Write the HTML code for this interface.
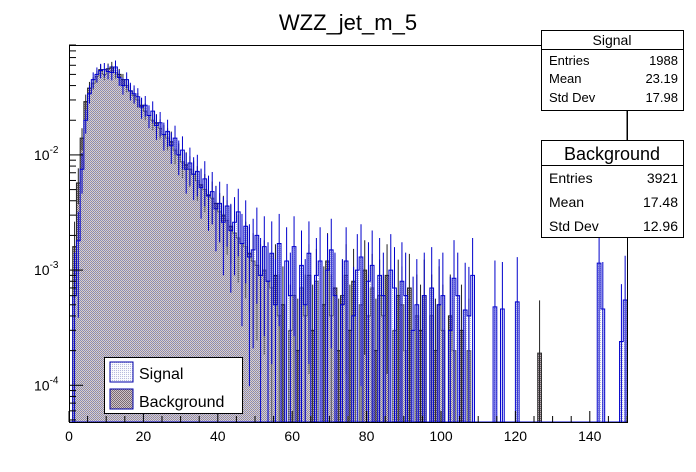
<!DOCTYPE html>
<html><head><meta charset="utf-8"><style>
body{margin:0;background:#fff;font-family:"Liberation Sans",sans-serif}
svg{display:block}
</style></head><body>
<svg id="c" width="696" height="472">
<defs>
<pattern id="hb" width="2" height="2" patternUnits="userSpaceOnUse"><rect width="2" height="2" fill="#cfc4c8"/><rect width="1" height="1" fill="#7a6a74"/><rect x="1" y="1" width="1" height="1" fill="#7a6a74"/></pattern>
<pattern id="hs" width="2" height="2" patternUnits="userSpaceOnUse"><rect width="2" height="2" fill="#e8eaf6" fill-opacity="0.25"/><rect width="1" height="1" fill="#8c90c8" fill-opacity="0.6"/></pattern>
</defs>
<text x="348" y="30" font-size="22" text-anchor="middle">WZZ_jet_m_5</text>
<g id="plot"></g>
<g id="axes"></g>
<line x1="627" y1="110" x2="627" y2="140" stroke="#000"/>
<g>
<rect x="541.5" y="30.5" width="142" height="80" fill="#fff" stroke="#000"/>
<line x1="541" y1="49.5" x2="684" y2="49.5" stroke="#000"/>
<text x="612" y="45" font-size="14" text-anchor="middle">Signal</text>
<text x="549" y="65" font-size="13">Entries</text><text x="678" y="65" font-size="13" text-anchor="end">1988</text>
<text x="549" y="83" font-size="13">Mean</text><text x="678" y="83" font-size="13" text-anchor="end">23.19</text>
<text x="549" y="102" font-size="13">Std Dev</text><text x="678" y="102" font-size="13" text-anchor="end">17.98</text>
</g>
<g>
<rect x="541.5" y="140.5" width="142" height="97" fill="#fff" stroke="#000"/>
<line x1="541" y1="165.5" x2="684" y2="165.5" stroke="#000"/>
<text x="612" y="160" font-size="18" text-anchor="middle">Background</text>
<text x="549" y="183" font-size="14">Entries</text><text x="678" y="183" font-size="14" text-anchor="end">3921</text>
<text x="549" y="207" font-size="14">Mean</text><text x="678" y="207" font-size="14" text-anchor="end">17.48</text>
<text x="549" y="231" font-size="14">Std Dev</text><text x="678" y="231" font-size="14" text-anchor="end">12.96</text>
</g>
<g>
<rect x="104.5" y="357.5" width="138" height="56" fill="#fff" stroke="#000"/>
<rect x="110" y="362" width="23" height="20" fill="url(#hs)" stroke="#0000aa"/>
<text x="139" y="379" font-size="16">Signal</text>
<rect x="110" y="389" width="23" height="20" fill="url(#hb)" stroke="#0000aa"/>
<text x="139" y="407" font-size="16">Background</text>
</g>
</svg>
<script>
const background=[0,0.0016,0.0057,0.014,0.029,0.038,0.042,0.048,0.055,0.05,0.056,0.058,0.052,0.05,0.045,0.04,0.036,0.033,0.03,0.027,
0.024,0.022,0.02,0.019,0.017,0.015,0.014,0.013,0.011,0.010,0.0087,0.0082,0.0075,0.0068,0.006,0.0055,0.005,0.0045,0.0042,0.0038,
0.0032,0.003,0.0027,0.0024,0.0021,0.0019,0.0017,0.0016,0.0014,0.0012,0.0011,0.0009,0.0010,0.0008,0.0007,0.0009,
0.0004,0.0005,0,0.0003,0.0006,0.0002,0.0007,0.0004,0.0009,0.0003,0.0008,0,0.0005,0.0012,0.0004,0.0007,0.0002,0.0006,0.0009,0.0003,0.0008,0,0.0005,0.0010,
0.0004,0.0007,0.0002,0.0006,0.0004,0.0009,0,0.0003,0.0006,0.0005,0.0002,0.0007,0,0.0004,0.0003,0.0006,0,0.0004,0.0002,0.0005,
0.0003,0,0.0004,0.0002,0,0.0003,0,0.0002,0,0,0,0,0,0,0,0,0,0,0,0,0,0,0,0,0,0,0.00019,0,0,0,
0,0,0,0,0,0,0,0,0,0,0,0,0,0,0,0,0,0,0,0];
const signal=[0,0.0006,0.0018,0.0075,0.02,0.034,0.045,0.05,0.054,0.055,0.053,0.052,0.058,0.047,0.04,0.045,0.036,0.034,0.032,0.026,
0.027,0.022,0.024,0.018,0.019,0.015,0.016,0.012,0.014,0.010,0.011,0.0075,0.0085,0.0068,0.0072,0.0052,0.0062,0.0044,0.0048,0.0034,
0.0038,0.0026,0.0036,0.0022,0.0026,0.0032,0.0017,0.0024,0.0013,0.0015,0.002,0.0009,0.0016,0.0008,0.0014,0.0005,0.0017,0,0.0012,0.0006,
0.0016,0,0.0011,0.0005,0.0014,0,0.0009,0.0012,0,0.0010,0.0015,0.0006,0,0.0005,0.0012,0,0.0004,0.0010,0.0013,0,
0.0008,0.0011,0,0.0009,0.0006,0,0.0010,0.0007,0,0.0008,0.0006,0,0.0003,0.0005,0,0.0006,0,0.0007,0,0.0005,
0.0006,0,0.0003,0.00085,0.0006,0,0.00045,0.0004,0.0009,0,0,0,0,0,0.00048,0,0.00046,0,0,0,0.00053,0,0,0,0,0,0,0,0,0,
0,0,0,0,0,0,0,0,0,0,0,0,0.00115,0.00046,0,0,0,0,0.00024,0.00055];
const xTicks=[0,20,40,60,80,100,120,140];
const yDecades=[-4,-3,-2];
const yLabels=["10^-4","10^-3","10^-2"];
const X0=69,X1=627,Y0=45,Y1=422,YMIN=Math.log10(4.8e-5),YMAX=Math.log10(0.09);
const xs=v=>X0+(v/150)*(X1-X0);
const ys=v=>v<=0?Y1:Math.max(Y0,Math.min(Y1,Y1-(Math.log10(v)-YMIN)/(YMAX-YMIN)*(Y1-Y0)));
const NS='http://www.w3.org/2000/svg';
const plot=document.getElementById('plot'),axes=document.getElementById('axes');
function mk(t,a,p){const e=document.createElementNS(NS,t);for(const k in a)e.setAttribute(k,a[k]);(p||plot).appendChild(e);return e;}
function stepPath(arr){let d='M'+xs(0)+','+Y1;arr.forEach((v,i)=>{d+=' L'+xs(i)+','+ys(v)+' L'+xs(i+1)+','+ys(v);});return d+' L'+xs(arr.length)+','+Y1+' Z';}
function draw(arr,fill,stroke,name,N){
 const f=mk('path',{d:stepPath(arr),fill:fill,stroke:stroke,'stroke-width':1});
 
 
 arr.forEach((v,i)=>{if(v<=0)return;const e=Math.sqrt(v/N);const cx=xs(i+0.5);
  const l=mk('line',{x1:cx,x2:cx,y1:ys(v+e),y2:ys(Math.max(v-e,1e-9)),stroke:stroke,'stroke-width':1});
  
  });
}
draw(background,'url(#hb)','#222','background',1500);
draw(signal,'url(#hs)','#0000cc','signal',900);
mk('rect',{x:X0+0.5,y:Y0+0.5,width:X1-X0,height:Y1-Y0,fill:'none',stroke:'#000'},axes);
for(let v=0;v<=150;v+=5){const x=xs(v);mk('line',{x1:x,x2:x,y1:Y1,y2:Y1-(v%20==0?11:6),stroke:'#000'},axes);}
xTicks.forEach(v=>{const t=mk('text',{x:xs(v),y:Y1+19,'font-size':14,'text-anchor':'middle'},axes);t.textContent=v;
 
 });
for(let d=-5;d<=-1;d++)for(let m=1;m<10;m++){const v=m*Math.pow(10,d);const lv=Math.log10(v);if(lv<YMIN||lv>YMAX)continue;
 const y=ys(v);mk('line',{x1:X0,x2:X0+(m==1?14:7),y1:y,y2:y,stroke:'#000'},axes);}
yDecades.forEach((d,i)=>{const y=ys(Math.pow(10,d));const t=mk('text',{x:34,y:y+5,'font-size':14},axes);
 
 
 t.textContent='10';const s=mk('tspan',{dy:-7,'font-size':10},t);s.textContent=yLabels[i].split('^')[1];});
</script>
</body></html>
